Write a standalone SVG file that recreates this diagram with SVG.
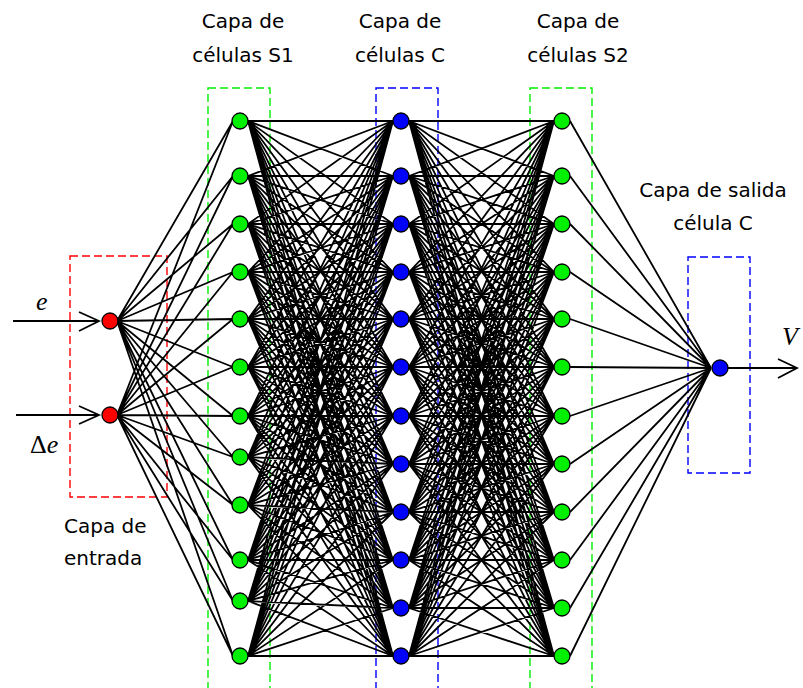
<svg xmlns="http://www.w3.org/2000/svg" width="803" height="688" viewBox="0 0 803 688">
<style>
.lbl{font-family:"Comic Sans MS","DejaVu Sans",sans-serif;font-size:20px;fill:#000}
.mid{text-anchor:middle}
.math{font-family:"Liberation Serif","Times New Roman",serif;font-size:26px;fill:#000}
.box{fill:none;stroke-width:1.4;stroke-dasharray:8 4}
.edges{fill:none;stroke:#000;stroke-width:1.8}
.n{stroke:#000;stroke-width:1.3}
.g{fill:#00f000}.b{fill:#0000ff}.r{fill:#ff0000}
</style>
<rect width="803" height="688" fill="#fff"/>
<g id="boxes">
<rect class="box" x="70" y="256" width="97" height="241" stroke="#ff0000"/>
<rect class="box" x="208" y="88" width="62" height="605" stroke="#00f000"/>
<rect class="box" x="376" y="88" width="62" height="605" stroke="#0000ff"/>
<rect class="box" x="530" y="88" width="62" height="605" stroke="#00f000"/>
<rect class="box" x="688" y="257" width="62" height="216" stroke="#0000ff"/>
</g>
<g id="connectors" class="edges">
<path d="M117 321L233 121M117 321L233 176M117 321L233 224M117 321L233 272M117 321L233 319M117 321L233 367M117 321L233 416M117 321L233 457M117 321L233 505M117 321L233 560M117 321L233 601M117 321L233 656M117 415L233 121M117 415L233 176M117 415L233 224M117 415L233 272M117 415L233 319M117 415L233 367M117 415L233 416M117 415L233 457M117 415L233 505M117 415L233 560M117 415L233 601M117 415L233 656"/>
<path d="M248 121L393 121M248 121L393 176M248 121L393 224M248 121L393 272M248 121L393 319M248 121L393 367M248 121L393 416M248 121L393 464M248 121L393 512M248 121L393 560M248 121L393 608M248 121L393 656
M248 176L393 121M248 176L393 176M248 176L393 224M248 176L393 272M248 176L393 319M248 176L393 367M248 176L393 416M248 176L393 464M248 176L393 512M248 176L393 560M248 176L393 608M248 176L393 656
M248 224L393 121M248 224L393 176M248 224L393 224M248 224L393 272M248 224L393 319M248 224L393 367M248 224L393 416M248 224L393 464M248 224L393 512M248 224L393 560M248 224L393 608M248 224L393 656
M248 272L393 121M248 272L393 176M248 272L393 224M248 272L393 272M248 272L393 319M248 272L393 367M248 272L393 416M248 272L393 464M248 272L393 512M248 272L393 560M248 272L393 608M248 272L393 656
M248 319L393 121M248 319L393 176M248 319L393 224M248 319L393 272M248 319L393 319M248 319L393 367M248 319L393 416M248 319L393 464M248 319L393 512M248 319L393 560M248 319L393 608M248 319L393 656
M248 367L393 121M248 367L393 176M248 367L393 224M248 367L393 272M248 367L393 319M248 367L393 367M248 367L393 416M248 367L393 464M248 367L393 512M248 367L393 560M248 367L393 608M248 367L393 656
M248 416L393 121M248 416L393 176M248 416L393 224M248 416L393 272M248 416L393 319M248 416L393 367M248 416L393 416M248 416L393 464M248 416L393 512M248 416L393 560M248 416L393 608M248 416L393 656
M248 457L393 121M248 457L393 176M248 457L393 224M248 457L393 272M248 457L393 319M248 457L393 367M248 457L393 416M248 457L393 464M248 457L393 512M248 457L393 560M248 457L393 608M248 457L393 656
M248 505L393 121M248 505L393 176M248 505L393 224M248 505L393 272M248 505L393 319M248 505L393 367M248 505L393 416M248 505L393 464M248 505L393 512M248 505L393 560M248 505L393 608M248 505L393 656
M248 560L393 121M248 560L393 176M248 560L393 224M248 560L393 272M248 560L393 319M248 560L393 367M248 560L393 416M248 560L393 464M248 560L393 512M248 560L393 560M248 560L393 608M248 560L393 656
M248 601L393 121M248 601L393 176M248 601L393 224M248 601L393 272M248 601L393 319M248 601L393 367M248 601L393 416M248 601L393 464M248 601L393 512M248 601L393 560M248 601L393 608M248 601L393 656
M248 656L393 121M248 656L393 176M248 656L393 224M248 656L393 272M248 656L393 319M248 656L393 367M248 656L393 416M248 656L393 464M248 656L393 512M248 656L393 560M248 656L393 608M248 656L393 656"/>
<path d="M409 121L554 121M409 121L554 176M409 121L554 224M409 121L554 272M409 121L554 319M409 121L554 367M409 121L554 416M409 121L554 464M409 121L554 512M409 121L554 560M409 121L554 608M409 121L554 656
M409 176L554 121M409 176L554 176M409 176L554 224M409 176L554 272M409 176L554 319M409 176L554 367M409 176L554 416M409 176L554 464M409 176L554 512M409 176L554 560M409 176L554 608M409 176L554 656
M409 224L554 121M409 224L554 176M409 224L554 224M409 224L554 272M409 224L554 319M409 224L554 367M409 224L554 416M409 224L554 464M409 224L554 512M409 224L554 560M409 224L554 608M409 224L554 656
M409 272L554 121M409 272L554 176M409 272L554 224M409 272L554 272M409 272L554 319M409 272L554 367M409 272L554 416M409 272L554 464M409 272L554 512M409 272L554 560M409 272L554 608M409 272L554 656
M409 319L554 121M409 319L554 176M409 319L554 224M409 319L554 272M409 319L554 319M409 319L554 367M409 319L554 416M409 319L554 464M409 319L554 512M409 319L554 560M409 319L554 608M409 319L554 656
M409 367L554 121M409 367L554 176M409 367L554 224M409 367L554 272M409 367L554 319M409 367L554 367M409 367L554 416M409 367L554 464M409 367L554 512M409 367L554 560M409 367L554 608M409 367L554 656
M409 416L554 121M409 416L554 176M409 416L554 224M409 416L554 272M409 416L554 319M409 416L554 367M409 416L554 416M409 416L554 464M409 416L554 512M409 416L554 560M409 416L554 608M409 416L554 656
M409 464L554 121M409 464L554 176M409 464L554 224M409 464L554 272M409 464L554 319M409 464L554 367M409 464L554 416M409 464L554 464M409 464L554 512M409 464L554 560M409 464L554 608M409 464L554 656
M409 512L554 121M409 512L554 176M409 512L554 224M409 512L554 272M409 512L554 319M409 512L554 367M409 512L554 416M409 512L554 464M409 512L554 512M409 512L554 560M409 512L554 608M409 512L554 656
M409 560L554 121M409 560L554 176M409 560L554 224M409 560L554 272M409 560L554 319M409 560L554 367M409 560L554 416M409 560L554 464M409 560L554 512M409 560L554 560M409 560L554 608M409 560L554 656
M409 608L554 121M409 608L554 176M409 608L554 224M409 608L554 272M409 608L554 319M409 608L554 367M409 608L554 416M409 608L554 464M409 608L554 512M409 608L554 560M409 608L554 608M409 608L554 656
M409 656L554 121M409 656L554 176M409 656L554 224M409 656L554 272M409 656L554 319M409 656L554 367M409 656L554 416M409 656L554 464M409 656L554 512M409 656L554 560M409 656L554 608M409 656L554 656"/>
<path d="M570 121L711 368M570 176L711 368M570 224L711 368M570 272L711 368M570 319L711 368M570 367L711 368M570 416L711 368M570 464L711 368M570 512L711 368M570 560L711 368M570 608L711 368M570 656L711 368"/>
<path d="M13 321H99M79 312L99 321L79 331M16 415H99M79 406L99 415L79 424M728 368H797M778 359L797 368L778 378"/>
</g>
<g id="input-layer">
<circle class="n r" cx="110" cy="321" r="8"/>
<circle class="n r" cx="110" cy="415" r="8"/>
</g>
<g id="s1-layer">
<circle class="n g" cx="240" cy="121" r="8"/><circle class="n g" cx="240" cy="176" r="8"/><circle class="n g" cx="240" cy="224" r="8"/><circle class="n g" cx="240" cy="272" r="8"/><circle class="n g" cx="240" cy="319" r="8"/><circle class="n g" cx="240" cy="367" r="8"/><circle class="n g" cx="240" cy="416" r="8"/><circle class="n g" cx="240" cy="457" r="8"/><circle class="n g" cx="240" cy="505" r="8"/><circle class="n g" cx="240" cy="560" r="8"/><circle class="n g" cx="240" cy="601" r="8"/><circle class="n g" cx="240" cy="656" r="8"/>
</g>
<g id="c-layer">
<circle class="n b" cx="401" cy="121" r="8"/><circle class="n b" cx="401" cy="176" r="8"/><circle class="n b" cx="401" cy="224" r="8"/><circle class="n b" cx="401" cy="272" r="8"/><circle class="n b" cx="401" cy="319" r="8"/><circle class="n b" cx="401" cy="367" r="8"/><circle class="n b" cx="401" cy="416" r="8"/><circle class="n b" cx="401" cy="464" r="8"/><circle class="n b" cx="401" cy="512" r="8"/><circle class="n b" cx="401" cy="560" r="8"/><circle class="n b" cx="401" cy="608" r="8"/><circle class="n b" cx="401" cy="656" r="8"/>
</g>
<g id="s2-layer">
<circle class="n g" cx="562" cy="121" r="8"/><circle class="n g" cx="562" cy="176" r="8"/><circle class="n g" cx="562" cy="224" r="8"/><circle class="n g" cx="562" cy="272" r="8"/><circle class="n g" cx="562" cy="319" r="8"/><circle class="n g" cx="562" cy="367" r="8"/><circle class="n g" cx="562" cy="416" r="8"/><circle class="n g" cx="562" cy="464" r="8"/><circle class="n g" cx="562" cy="512" r="8"/><circle class="n g" cx="562" cy="560" r="8"/><circle class="n g" cx="562" cy="608" r="8"/><circle class="n g" cx="562" cy="656" r="8"/>
</g>
<g id="output-layer">
<circle class="n b" cx="720" cy="368" r="8"/>
</g>
<g id="labels">
<text class="lbl mid" x="243" y="28">Capa de</text>
<text class="lbl mid" x="243" y="62">células S1</text>
<text class="lbl mid" x="400" y="28">Capa de</text>
<text class="lbl mid" x="400" y="62">células C</text>
<text class="lbl mid" x="578" y="28">Capa de</text>
<text class="lbl mid" x="578" y="62">células S2</text>
<text class="lbl mid" x="713" y="197">Capa de salida</text>
<text class="lbl mid" x="713" y="230">célula C</text>
<text class="lbl" x="64" y="533">Capa de</text>
<text class="lbl" x="64" y="565">entrada</text>
<text class="math" x="36" y="310" font-style="italic">e</text>
<text class="math" x="30" y="453">Δ<tspan font-style="italic">e</tspan></text>
<text class="math" x="782" y="345" font-style="italic">V</text>
</g>
</svg>
